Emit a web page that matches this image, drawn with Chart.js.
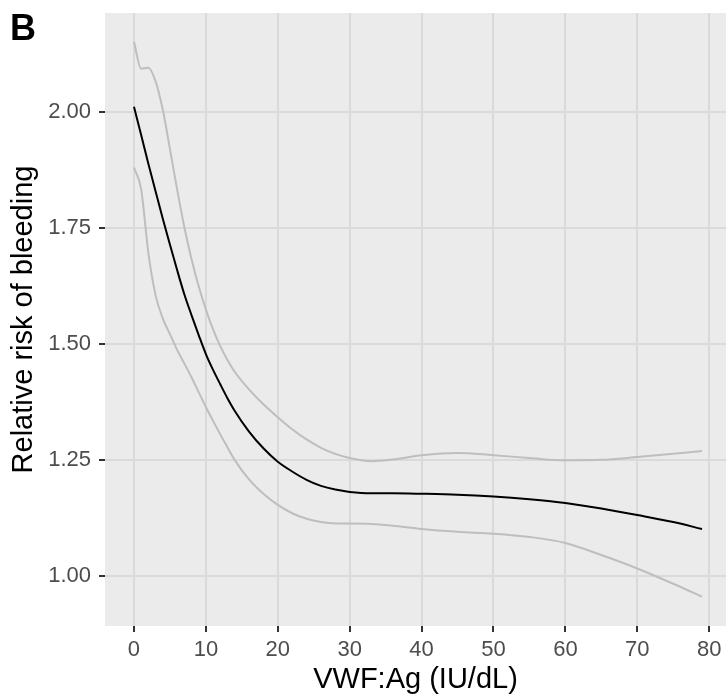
<!DOCTYPE html>
<html>
<head>
<meta charset="utf-8">
<script src="https://cdn.jsdelivr.net/npm/chart.js@4/dist/chart.umd.min.js"></script>
<style>
  body { margin: 0; background: #ffffff; }
  canvas { display: block; }
</style>
</head>
<body>
<canvas id="main_chart" width="726" height="700"></canvas>
<script>
// VWF:Ag values (IU/dL) the curves are read at
const vwfAg = [0, 1, 2, 3, 4, 5, 6, 7, 8, 9, 10, 11, 12, 13, 14, 16, 18, 20, 22, 24, 26, 28, 30, 33, 36, 40, 45, 50, 55, 60, 65, 70, 75, 79];
// fitted relative risk
const riskFit = [2.011, 1.950, 1.888, 1.829, 1.770, 1.714, 1.659, 1.607, 1.562, 1.519, 1.478, 1.444, 1.413, 1.383, 1.356, 1.311, 1.275, 1.246, 1.225, 1.207, 1.194, 1.186, 1.181, 1.178, 1.178, 1.177, 1.175, 1.171, 1.165, 1.157, 1.145, 1.131, 1.116, 1.101];
// confidence band
const riskUpper = [2.151, 2.093, 2.095, 2.066, 2.005, 1.920, 1.833, 1.752, 1.683, 1.624, 1.574, 1.531, 1.495, 1.465, 1.440, 1.402, 1.370, 1.342, 1.316, 1.294, 1.276, 1.263, 1.254, 1.247, 1.251, 1.260, 1.265, 1.260, 1.254, 1.249, 1.250, 1.256, 1.263, 1.269];
const riskLower = [1.880, 1.833, 1.696, 1.605, 1.555, 1.521, 1.487, 1.458, 1.428, 1.396, 1.364, 1.334, 1.305, 1.277, 1.250, 1.208, 1.177, 1.153, 1.135, 1.123, 1.116, 1.113, 1.113, 1.112, 1.108, 1.101, 1.095, 1.091, 1.084, 1.071, 1.045, 1.016, 0.983, 0.955];

const xTicks = [0, 10, 20, 30, 40, 50, 60, 70, 80];
const yTicks = [1.00, 1.25, 1.50, 1.75, 2.00];

const toPoints = (ys) => vwfAg.map((x, i) => ({ x: x, y: ys[i] }));

// grey panel behind the grid, ggplot style
const panelBackground = {
  id: 'panelBackground',
  beforeDraw(chart) {
    const { ctx, chartArea } = chart;
    ctx.save();
    ctx.fillStyle = '#EBEBEB';
    ctx.fillRect(chartArea.left, chartArea.top, chartArea.right - chartArea.left, chartArea.bottom - chartArea.top);
    ctx.restore();
  }
};

// panel tag in the corner
const panelTag = {
  id: 'panelTag',
  afterDraw(chart) {
    const ctx = chart.ctx;
    ctx.save();
    ctx.fillStyle = '#000000';
    ctx.font = 'bold 36px "Liberation Sans", Arial, sans-serif';
    ctx.textBaseline = 'alphabetic';
    ctx.textAlign = 'left';
    ctx.fillText('B', 10, 40);
    ctx.restore();
  }
};

const tickFont = { family: '"Liberation Sans", Arial, sans-serif', size: 22 };
const titleFont = { family: '"Liberation Sans", Arial, sans-serif', size: 29, lineHeight: 1.2 };

new Chart(document.getElementById('main_chart'), {
  type: 'line',
  data: {
    datasets: [
      { data: toPoints(riskFit), borderColor: '#000000', borderWidth: 2 },
      { data: toPoints(riskUpper), borderColor: '#BEBEBE', borderWidth: 2 },
      { data: toPoints(riskLower), borderColor: '#BEBEBE', borderWidth: 2 }
    ]
  },
  options: {
    responsive: false,
    animation: false,
    layout: { padding: { top: 13, left: 0, right: 0, bottom: 0 } },
    elements: {
      point: { radius: 0 },
      line: { cubicInterpolationMode: 'monotone', fill: false }
    },
    plugins: {
      legend: { display: false },
      tooltip: { enabled: false }
    },
    scales: {
      x: {
        type: 'linear',
        min: -4.03,
        max: 82.34,
        afterBuildTicks: (scale) => { scale.ticks = xTicks.map(v => ({ value: v })); },
        afterFit: (scale) => {
          scale.height = 74;
          scale.paddingLeft = 0;
          scale.paddingRight = 0;
        },
        border: { display: false },
        grid: { color: '#DADADA', lineWidth: 2, tickColor: '#333333', tickLength: 6 },
        ticks: { color: '#4D4D4D', font: tickFont, padding: 5, maxRotation: 0 },
        title: { display: true, text: 'VWF:Ag (IU/dL)', color: '#000000', font: titleFont, padding: { top: 0, bottom: 3 } }
      },
      y: {
        type: 'linear',
        min: 0.892,
        max: 2.213,
        afterBuildTicks: (scale) => { scale.ticks = yTicks.map(v => ({ value: v })); },
        afterFit: (scale) => {
          scale.width = 105;
          scale.paddingTop = 0;
          scale.paddingBottom = 0;
        },
        border: { display: false },
        grid: { color: '#DADADA', lineWidth: 2, tickColor: '#333333', tickLength: 6 },
        ticks: { color: '#4D4D4D', font: tickFont, padding: 8, callback: (v) => v.toFixed(2) },
        title: { display: true, text: 'Relative risk of bleeding', color: '#000000', font: titleFont, padding: { top: 7, bottom: 0 } }
      }
    }
  },
  plugins: [panelBackground, panelTag]
});
</script>
</body>
</html>
